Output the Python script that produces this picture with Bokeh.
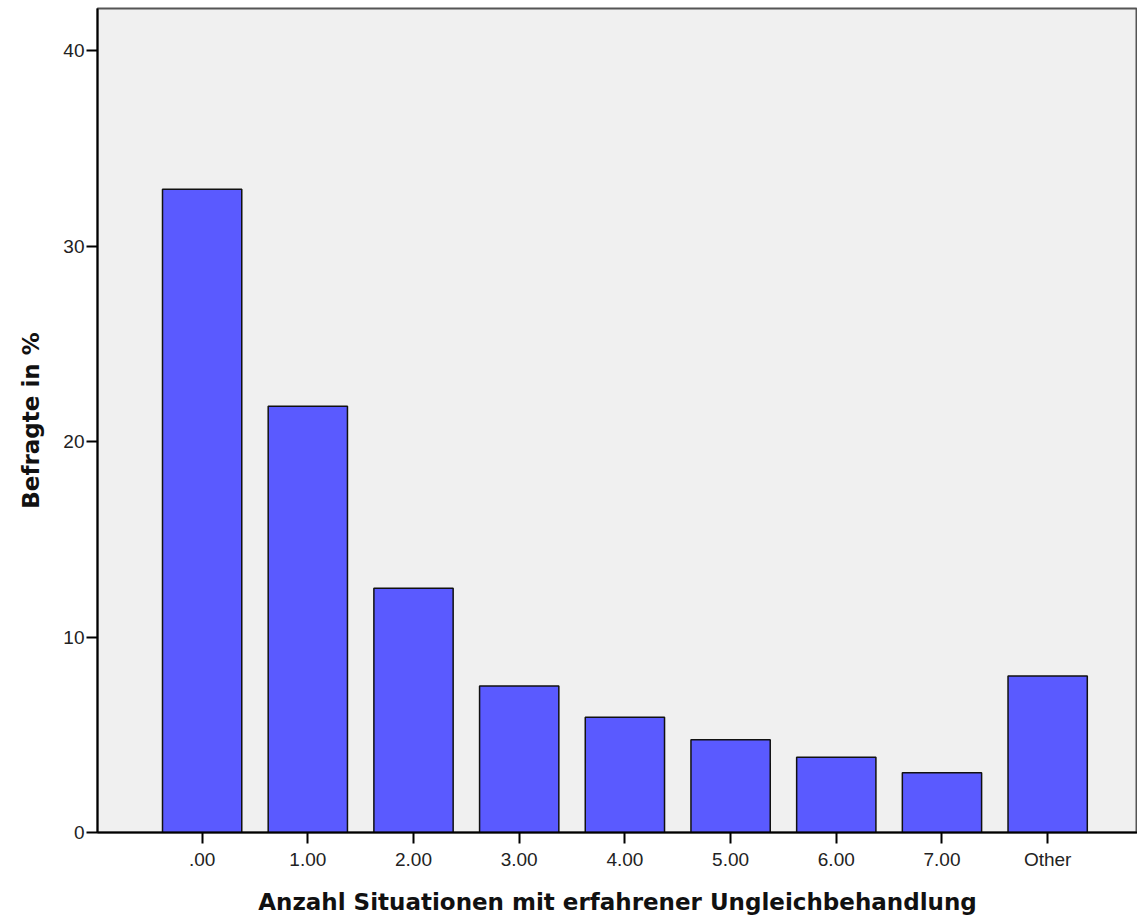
from bokeh.plotting import figure
from bokeh.models import Range1d, FixedTicker, ColumnDataSource
from bokeh.embed import file_html
from bokeh.resources import INLINE

categories = [".00", "1.00", "2.00", "3.00", "4.00", "5.00", "6.00", "7.00", "Other"]
values = [32.9, 21.8, 12.5, 7.5, 5.9, 4.75, 3.85, 3.05, 8.0]
y_ticks = [0, 10, 20, 30, 40]

positions = list(range(len(categories)))
src = ColumnDataSource(dict(x=positions, top=values, cat=categories))

p = figure(width=1137, height=920, output_backend="svg", toolbar_location=None,
           x_range=Range1d(-0.99, 8.85), y_range=Range1d(0, 42.15),
           min_border_left=97, min_border_right=0, min_border_top=8, min_border_bottom=88)

p.vbar(x="x", top="top", width=0.75, bottom=0, source=src,
       fill_color="#5a5aff", line_color="#111111", line_width=1.5)

p.background_fill_color = "#f0f0f0"
p.border_fill_color = "white"
p.outline_line_color = "#555555"
p.outline_line_width = 2
p.xgrid.visible = False
p.ygrid.visible = False

p.xaxis.ticker = FixedTicker(ticks=positions)
p.xaxis.major_label_overrides = {i: c for i, c in enumerate(categories)}
p.yaxis.ticker = FixedTicker(ticks=y_ticks)

for ax in (p.xaxis[0], p.yaxis[0]):
    ax.axis_line_color = "black"
    ax.axis_line_width = 2
    ax.major_tick_line_color = "black"
    ax.major_tick_line_width = 2
    ax.major_tick_in = 0
    ax.major_tick_out = 11
    ax.minor_tick_line_color = None
    ax.major_label_text_font = "Liberation Sans"
    ax.major_label_text_font_size = "19px"
    ax.major_label_text_color = "#222222"
    ax.axis_label_text_font = "DejaVu Sans"
    ax.axis_label_text_font_style = "bold"
    ax.axis_label_text_font_size = "23px"
    ax.axis_label_text_color = "#111111"

p.xaxis.major_label_standoff = 5
p.yaxis.major_label_standoff = 2
p.xaxis.axis_label = "Anzahl Situationen mit erfahrener Ungleichbehandlung"
p.yaxis.axis_label = "Befragte in %"
p.xaxis.axis_label_standoff = 16
p.yaxis.axis_label_standoff = 16

open("out.html", "w").write(file_html(p, INLINE))
